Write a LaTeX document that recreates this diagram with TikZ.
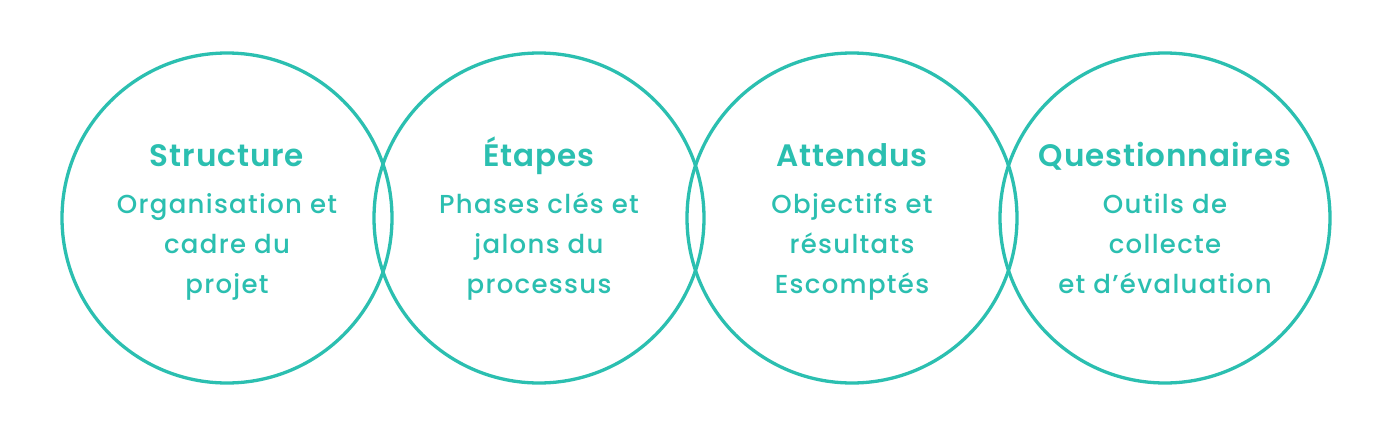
\documentclass[tikz,border=0pt]{standalone}
\usepackage{fontspec}
\setmainfont{Poppins}
\newfontfamily\subfont[LetterSpace=5]{Poppins Medium}
\newfontfamily\ttlfont[LetterSpace=3]{Poppins SemiBold}
\definecolor{teal1}{HTML}{2BBFB0}
\begin{document}
\begin{tikzpicture}[x=1pt,y=-1pt,
  ring/.style={circle,draw=teal1,line width=3.3pt,minimum size=330pt,inner sep=0pt},
  ttl/.style={anchor=base,text=teal1,font=\ttlfont\fontsize{31}{32}\selectfont,inner sep=0pt},
  sub/.style={anchor=base,text=teal1,font=\subfont\fontsize{26}{28}\selectfont,inner sep=0pt}]
\useasboundingbox (0,0) rectangle (1392,436);
\fill[white] (0,0) rectangle (1392,436);
\node[ring] (c1) at (227,218) {};
\node[ring] (c2) at (539,218) {};
\node[ring] (c3) at (852,218) {};
\node[ring] (c4) at (1165,218) {};
\foreach \n/\x/\t/\a/\b/\c in {
  1/227/Structure/Organisation et/cadre du/projet,
  2/539/Étapes/Phases clés et/jalons du/processus,
  3/852/Attendus/Objectifs et/résultats/Escomptés,
  4/1165/Questionnaires/Outils de/collecte/et d’évaluation}{
  \node[ttl] (t\n) at (\x,166) {\t};
  \node[sub] (a\n) at (\x,213) {\a};
  \node[sub] (b\n) at (\x,253) {\b};
  \node[sub] (d\n) at (\x,293) {\c};
}
\end{tikzpicture}
\end{document}
